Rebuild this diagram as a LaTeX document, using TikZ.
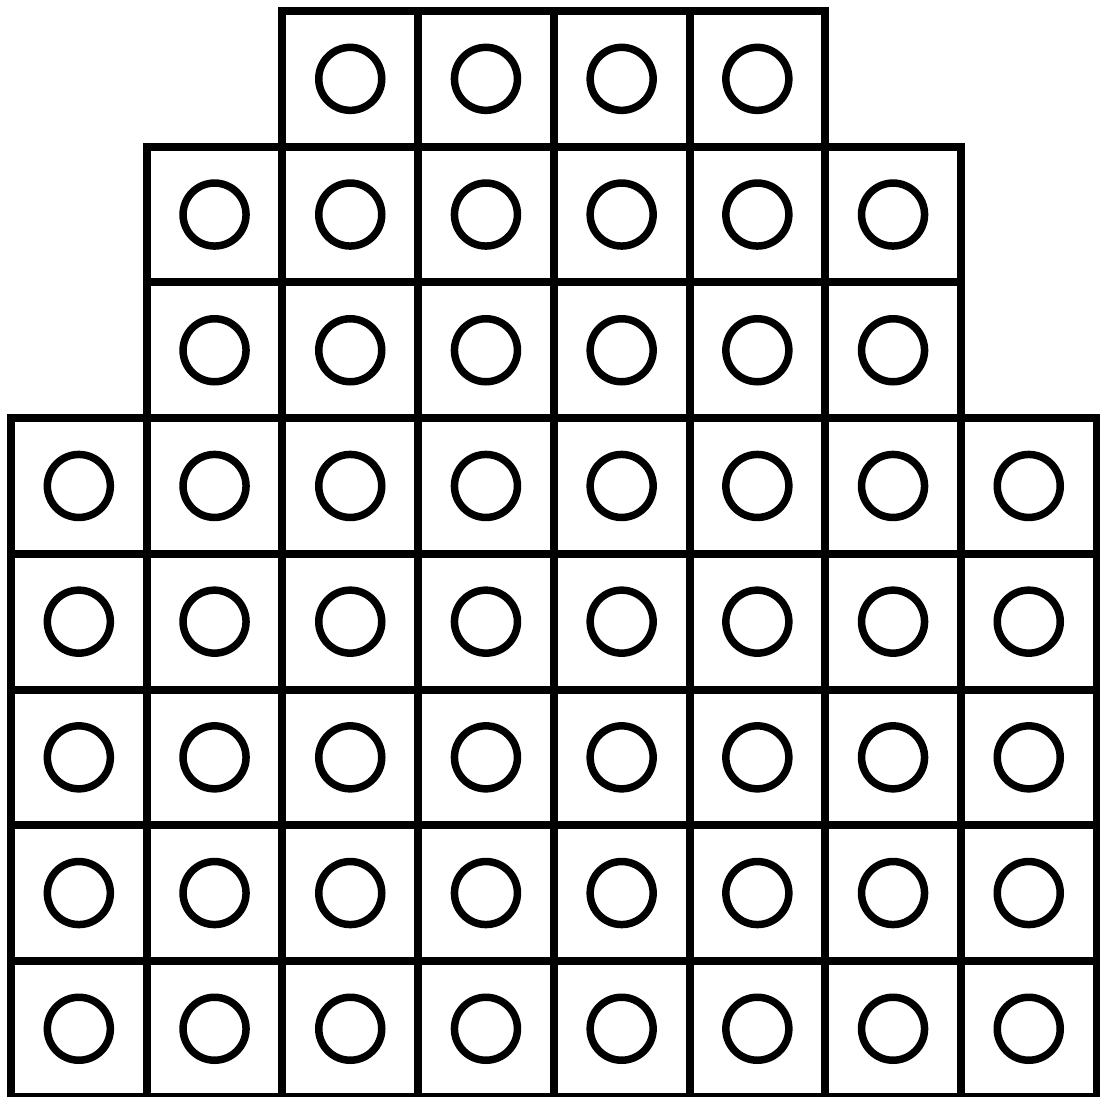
\documentclass[tikz,border=0pt]{standalone}
\begin{document}
\begin{tikzpicture}[x=1pt,y=-1pt,
  cell/.style={draw=black,line width=8pt,rectangle,minimum size=135.7pt,inner sep=0pt,outer sep=0pt},
  ring/.style={draw=black,line width=7.5pt,circle,minimum size=63pt,inner sep=0pt,outer sep=0pt}]
\useasboundingbox[fill=white] (0,0) rectangle (1100,1097);
% row 1: columns 3-6
\foreach \c in {3,...,6}{
  \node[cell] (s-1-\c) at ({11+135.7*(\c-0.5)},{11+135.7*0.5}) {};
  \node[ring] (o-1-\c) at (s-1-\c) {};
}
% rows 2-3: columns 2-7
\foreach \r in {2,3}{
  \foreach \c in {2,...,7}{
    \node[cell] (s-\r-\c) at ({11+135.7*(\c-0.5)},{11+135.7*(\r-0.5)}) {};
    \node[ring] (o-\r-\c) at (s-\r-\c) {};
  }
}
% rows 4-8: columns 1-8
\foreach \r in {4,...,8}{
  \foreach \c in {1,...,8}{
    \node[cell] (s-\r-\c) at ({11+135.7*(\c-0.5)},{11+135.7*(\r-0.5)}) {};
    \node[ring] (o-\r-\c) at (s-\r-\c) {};
  }
}
\end{tikzpicture}
\end{document}
